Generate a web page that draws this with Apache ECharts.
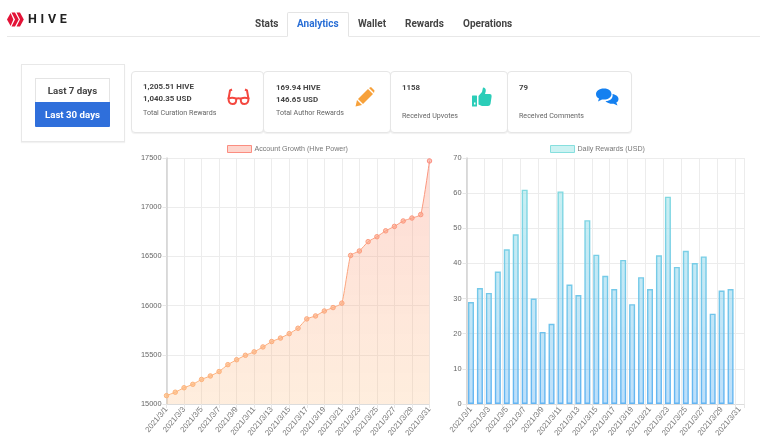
<!DOCTYPE html>
<html>

<head>
    <meta charset="utf-8">
    <title>Analytics</title>
    <script src="https://cdn.jsdelivr.net/npm/echarts@6/dist/echarts.min.js"></script>
    <style>
        html, body { margin: 0; padding: 0; background: #fff; }
        body { width: 768px; height: 445px; position: relative; overflow: hidden; font-family: Roboto, "Liberation Sans", sans-serif; color: #444; }
        #main { position: absolute; left: 0; top: 0; width: 768px; height: 445px; }
        .abs { position: absolute; white-space: nowrap; }
        .nav { top: 17px; font-size: 10px; font-weight: 700; line-height: 14px; color: #444; }
        .box { position: absolute; box-sizing: border-box; background: #fff; }
        .card { top: 71px; height: 62px; border: 1px solid #e6e6e6; border-radius: 4px; box-shadow: 0 1px 1px rgba(0, 0, 0, .06); }
        .v { font-size: 7.9px; font-weight: 700; line-height: 10px; color: #444; }
        .s { font-size: 7.1px; line-height: 10px; color: #666; }
    </style>
</head>

<body>
    <div id="main"></div>

    <!-- logo -->
    <svg class="abs" style="left:7px;top:12px" width="18" height="15" viewBox="0 0 18 15">
        <polygon points="0,7.5 3.6,1 6.4,7.5 3.6,14" fill="#e31337" />
        <polygon points="4.5,0.5 8,0.5 11.8,7.5 8,14.5 4.5,14.5 8,7.5" fill="#e31337" />
        <polygon points="9.5,0.5 13,0.5 16.8,7.5 13,14.5 9.5,14.5 13,7.5" fill="#e31337" />
    </svg>
    <div class="abs" style="left:28px;top:12px;font-size:12.5px;line-height:14px;font-weight:700;letter-spacing:3.7px;color:#222">HIVE</div>

    <!-- tabs -->
    <div class="box" style="left:7px;top:36px;width:753px;height:1px;background:#e8e8e8"></div>
    <div class="box" style="left:287px;top:12px;width:62px;height:25px;border:1px solid #e4e4e4;border-bottom:1px solid #fff;border-radius:2px 2px 0 0"></div>
    <div class="abs nav" style="left:255px">Stats</div>
    <div class="abs nav" style="left:297px;color:#2a6fd6">Analytics</div>
    <div class="abs nav" style="left:358px">Wallet</div>
    <div class="abs nav" style="left:405px">Rewards</div>
    <div class="abs nav" style="left:463px">Operations</div>

    <!-- range switch -->
    <div class="box" style="left:21px;top:64px;width:104px;height:78px;border:1px solid #e8e8e8;box-shadow:0 1px 1px rgba(0,0,0,.05)"></div>
    <div class="box" style="left:35px;top:78px;width:75px;height:25px;border:1px solid #e4e4e4;font-size:9.7px;font-weight:700;line-height:23px;text-align:center">Last 7 days</div>
    <div class="box" style="left:35px;top:102px;width:75px;height:25px;background:#2f6fdb;border-radius:0 0 1px 1px;color:#fff;font-size:9.7px;font-weight:700;line-height:25px;text-align:center">Last 30 days</div>

    <!-- cards -->
    <div class="box card" style="left:131px;width:133px"></div>
    <div class="box card" style="left:263px;width:128px"></div>
    <div class="box card" style="left:390px;width:118px"></div>
    <div class="box card" style="left:507px;width:125px"></div>

    <div class="abs v" style="left:143px;top:82px">1,205.51 HIVE</div>
    <div class="abs v" style="left:143px;top:94px">1,040.35 USD</div>
    <div class="abs s" style="left:143px;top:108px">Total Curation Rewards</div>
    <div class="abs v" style="left:276px;top:83px">169.94 HIVE</div>
    <div class="abs v" style="left:276px;top:95px">146.65 USD</div>
    <div class="abs s" style="left:276px;top:108px">Total Author Rewards</div>
    <div class="abs v" style="left:402px;top:83px">1158</div>
    <div class="abs s" style="left:402px;top:111px">Received Upvotes</div>
    <div class="abs v" style="left:519px;top:83px">79</div>
    <div class="abs s" style="left:519px;top:111px">Received Comments</div>

    <!-- card icons -->
    <svg class="abs" style="left:227px;top:88px" width="23" height="18" viewBox="0 0 23 18" fill="none" stroke="#f4473f" stroke-width="2">
        <path d="M5 1.5 L3 2.5 L1.5 11" />
        <path d="M18 1.5 L20 2.5 L21.5 11" />
        <path d="M1.5 10.5 Q5 9 9 10.5 Q10 16 5.5 16 Q1.5 16 1.5 10.5 Z" />
        <path d="M21.5 10.5 Q18 9 14 10.5 Q13 16 17.5 16 Q21.5 16 21.5 10.5 Z" />
        <path d="M9 11 Q11.5 9.5 14 11" />
    </svg>
    <svg class="abs" style="left:355px;top:87px" width="20" height="20" viewBox="0 0 20 20" fill="#f7a13a">
        <polygon points="0.5,19.5 2,13 7,18" />
        <polygon points="3,12 13,2 18,7 8,17" />
        <polygon points="14,1 16,0 19.5,3.5 19,6 " />
    </svg>
    <svg class="abs" style="left:472px;top:87px" width="20" height="20" viewBox="0 0 20 20" fill="#2bcdb8">
        <rect x="0" y="8.5" width="5" height="11" rx="0.5" />
        <rect x="2" y="15.5" width="1.5" height="2" fill="#fff" />
        <path d="M6.5 9 L10 5 L11 0.5 Q14 0.5 13.8 4 L13 7 H18 Q20 7 19.6 9.5 L18.5 17 Q18 19 16 19 H10 L6.5 17.5 Z" />
    </svg>
    <svg class="abs" style="left:596px;top:88px" width="23" height="18" viewBox="0 0 23 18" fill="#1480f0">
        <path d="M8 0.5 C13 0.5 15.5 3 15.5 6 C15.5 9.5 12 11.5 8 11.5 L6 11.4 L2 13.5 L3 10.5 C1 9.5 0 8 0 6 C0 3 3 0.5 8 0.5 Z" />
        <path d="M16.5 6 C20 6.5 22.5 8.5 22.5 11 C22.5 12.7 21.6 13.8 20.3 14.6 L21.5 17.5 L17.6 15.8 C14 16 11 15 9.5 13 C13.5 13.2 17.5 10.5 16.5 6 Z" />
    </svg>

    <script>
        var dates = ['2021/3/1', '2021/3/2', '2021/3/3', '2021/3/4', '2021/3/5', '2021/3/6', '2021/3/7', '2021/3/8',
            '2021/3/9', '2021/3/10', '2021/3/11', '2021/3/12', '2021/3/13', '2021/3/14', '2021/3/15', '2021/3/16',
            '2021/3/17', '2021/3/18', '2021/3/19', '2021/3/20', '2021/3/21', '2021/3/22', '2021/3/23', '2021/3/24',
            '2021/3/25', '2021/3/26', '2021/3/27', '2021/3/28', '2021/3/29', '2021/3/30', '2021/3/31'];

        var hivePower = [15085, 15120, 15165, 15200, 15250, 15285, 15330, 15400, 15450, 15495, 15530, 15580, 15635,
            15670, 15715, 15770, 15865, 15895, 15945, 15980, 16025, 16510, 16555, 16650, 16700, 16760, 16805, 16860,
            16890, 16925, 17470];

        // no bar for the last day
        var dailyRewards = [29, 33, 31.6, 37.7, 44, 48.3, 61, 30, 20.5, 22.8, 60.5, 34, 31, 52.3, 42.5, 36.5, 32.7,
            41, 28.4, 36.1, 32.7, 42.3, 59, 39, 43.6, 40.1, 42, 25.7, 32.3, 32.7, null];

        var chart = echarts.init(document.getElementById('main'));

        function vGrad(c1, c2) {
            // global coords, so the colour runs over the whole plot and not per bar
            return new echarts.graphic.LinearGradient(0, 158, 0, 404, [
                { offset: 0, color: c1 }, { offset: 1, color: c2 }
            ], true);
        }

        // symbols have their own local coords, a global gradient does not work on them
        function pointStyle(v) {
            var t = (v - 15000) / 2500;
            return {
                value: v,
                itemStyle: {
                    color: echarts.color.lerp(t, ['rgba(253,190,130,.75)', 'rgba(250,150,130,.55)']),
                    borderColor: echarts.color.lerp(t, ['#fdb67c', '#fb8d80']),
                    borderWidth: 1
                }
            };
        }

        function xAxis(idx, gap) {
            return {
                type: 'category', gridIndex: idx, data: dates, boundaryGap: gap,
                axisLine: { lineStyle: { color: '#dcdcdc', width: 1 } },
                axisTick: { show: true, interval: 1, length: 4, lineStyle: { color: '#e6e6e6' } },
                splitLine: { show: true, interval: 1, lineStyle: { color: '#ececec', width: 1 } },
                axisLabel: { interval: 1, rotate: 50, fontSize: 7.8, color: '#777', margin: 4, fontFamily: 'Liberation Sans', hideOverlap: false }
            };
        }

        function yAxis(idx, min, max, step) {
            return {
                type: 'value', gridIndex: idx, min: min, max: max, interval: step,
                axisLine: { show: true, lineStyle: { color: '#d2d2d2', width: 1.5 } },
                axisTick: { show: true, length: 4, lineStyle: { color: '#e6e6e6' } },
                splitLine: { show: true, lineStyle: { color: '#ececec', width: 1 } },
                axisLabel: { fontSize: 7.4, color: '#666', margin: 5, fontFamily: 'Liberation Sans', formatter: function (v) { return String(v); } }
            };
        }

        var legendText = { fontSize: 7.1, color: '#777', fontFamily: 'Liberation Sans', padding: [0, 0, 0, -2] };

        chart.setOption({
            animation: false,
            backgroundColor: 'transparent',
            grid: [
                { left: 166.5, top: 158, width: 263, height: 246 },
                { left: 466.5, top: 158, width: 277.5, height: 246 }
            ],
            legend: [
                {
                    left: 227, top: 145, padding: 0, itemWidth: 24, itemHeight: 7, icon: 'rect',
                    data: ['Account Growth (Hive Power)'], textStyle: legendText,
                    itemStyle: { color: 'rgba(250,150,130,.4)', borderColor: '#fb8d80', borderWidth: 1 }
                },
                {
                    left: 550, top: 145, padding: 0, itemWidth: 24, itemHeight: 7, icon: 'rect',
                    data: ['Daily Rewards (USD)'], textStyle: legendText,
                    itemStyle: { color: 'rgba(128,222,222,.4)', borderColor: '#86dfde', borderWidth: 1 }
                }
            ],
            xAxis: [xAxis(0, false), xAxis(1, true)],
            yAxis: [yAxis(0, 15000, 17500, 500), yAxis(1, 0, 70, 10)],
            series: [{
                name: 'Account Growth (Hive Power)',
                type: 'line',
                xAxisIndex: 0, yAxisIndex: 0,
                data: hivePower.map(pointStyle),
                smooth: 0.15,
                symbol: 'circle', symbolSize: 4.5,
                lineStyle: { width: 1, color: vGrad('#fa9480', '#fdb67c') },
                areaStyle: { color: vGrad('rgba(250,140,120,.45)', 'rgba(253,190,130,.38)'), origin: 'start' }
            }, {
                name: 'Daily Rewards (USD)',
                type: 'bar',
                xAxisIndex: 1, yAxisIndex: 1,
                data: dailyRewards,
                barWidth: 6,
                itemStyle: {
                    color: vGrad('rgba(128,222,222,.42)', 'rgba(110,185,245,.45)'),
                    borderColor: vGrad('#86dfde', '#64b5f2'),
                    borderWidth: 1.4
                }
            }]
        });
    </script>
</body>

</html>
